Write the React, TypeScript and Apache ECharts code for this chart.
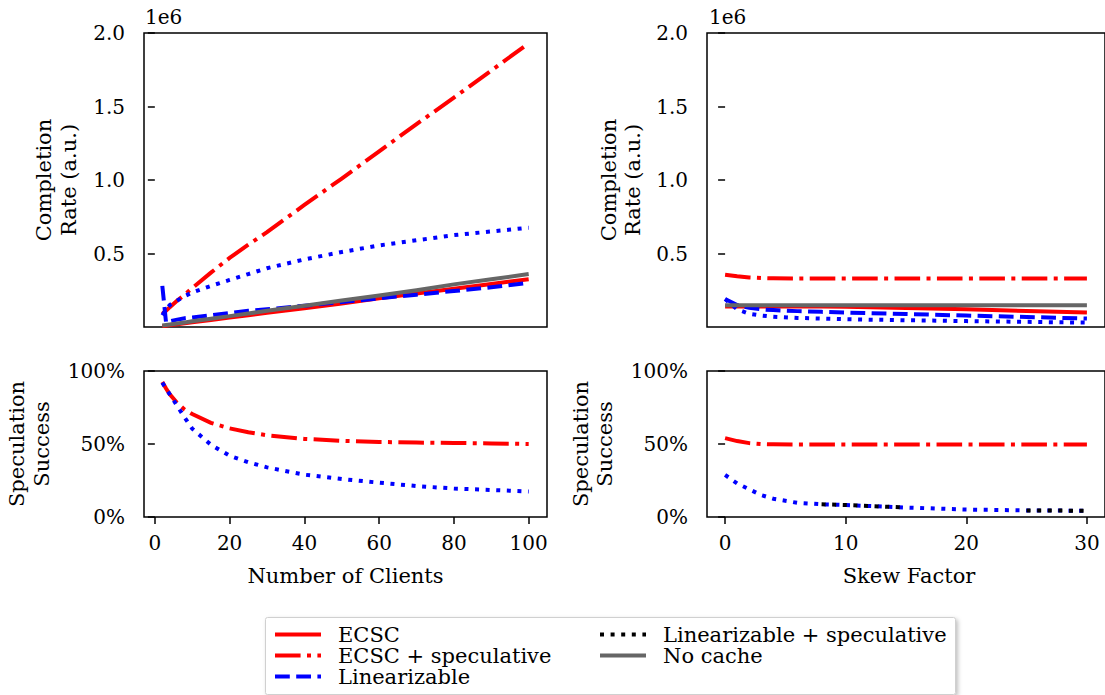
import React, { useEffect, useRef } from "react";
import * as echarts from "echarts";

const FONT = "DejaVu Serif";

// Number of clients (x for left panels)
const clients = [2, 3, 4, 6, 8, 10, 15, 20, 25, 30, 40, 50, 60, 70, 80, 90, 100];
// Completion rate (x1e6) vs clients
const rateEcscC = [0.006, 0.009, 0.013, 0.019, 0.026, 0.032, 0.048, 0.064, 0.08, 0.096, 0.128, 0.16, 0.195, 0.228, 0.26, 0.293, 0.325];
const rateEcscSpecC = [0.09, 0.11, 0.135, 0.18, 0.22, 0.265, 0.37, 0.47, 0.56, 0.645, 0.83, 1.01, 1.195, 1.38, 1.56, 1.745, 1.93];
const rateLinC = [0.28, 0.03, 0.04, 0.05, 0.06, 0.065, 0.08, 0.095, 0.11, 0.12, 0.145, 0.17, 0.195, 0.22, 0.245, 0.27, 0.3];
const rateLinSpecC = [0.08, 0.12, 0.15, 0.18, 0.21, 0.235, 0.28, 0.32, 0.36, 0.4, 0.46, 0.51, 0.555, 0.59, 0.625, 0.65, 0.675];
const rateNoCacheC = [0.01, 0.014, 0.017, 0.024, 0.031, 0.039, 0.056, 0.074, 0.092, 0.11, 0.145, 0.18, 0.215, 0.25, 0.29, 0.325, 0.36];
// Speculation success vs clients
const succEcscSpecC = [0.925, 0.88, 0.84, 0.78, 0.735, 0.705, 0.645, 0.607, 0.58, 0.56, 0.535, 0.522, 0.514, 0.51, 0.507, 0.504, 0.5];
const succLinSpecC = [0.92, 0.88, 0.84, 0.76, 0.68, 0.605, 0.495, 0.42, 0.375, 0.34, 0.29, 0.26, 0.235, 0.212, 0.195, 0.185, 0.175];

// Skew factor (x for right panels)
const skew = [0, 1, 2, 3, 4, 6, 8, 10, 12, 15, 20, 25, 30];
const rateEcscS = [0.14, 0.14, 0.14, 0.14, 0.14, 0.14, 0.14, 0.138, 0.135, 0.13, 0.12, 0.108, 0.098];
const rateEcscSpecS = [0.355, 0.345, 0.337, 0.333, 0.331, 0.33, 0.33, 0.33, 0.33, 0.33, 0.33, 0.33, 0.33];
const rateLinS = [0.19, 0.15, 0.13, 0.12, 0.115, 0.108, 0.103, 0.098, 0.094, 0.088, 0.078, 0.068, 0.058];
const rateLinSpecS = [0.19, 0.12, 0.09, 0.078, 0.07, 0.062, 0.057, 0.053, 0.05, 0.046, 0.04, 0.035, 0.03];
const rateNoCacheS = [0.148, 0.148, 0.148, 0.148, 0.148, 0.148, 0.148, 0.148, 0.148, 0.148, 0.148, 0.148, 0.148];
const succEcscSpecS = [0.54, 0.52, 0.506, 0.5, 0.498, 0.497, 0.497, 0.497, 0.497, 0.497, 0.497, 0.497, 0.497];
const succLinSpecS = [0.288, 0.23, 0.19, 0.15, 0.125, 0.097, 0.087, 0.082, 0.075, 0.065, 0.051, 0.045, 0.043];
// portions of the speculative-linearizable curve rendered black
const succLinSpecSBlack = [null, null, null, null, null, null, 0.087, 0.082, 0.075, 0.065, null, 0.045, 0.043];

const clientTicks = [0, 20, 40, 60, 80, 100];
const skewTicks = [0, 10, 20, 30];
const rateTicks = [0.5e6, 1.0e6, 1.5e6, 2.0e6];
const succTicks = [0, 0.5, 1];

const NAMES = ["ECSC", "ECSC + speculative", "Linearizable", "Linearizable + speculative", "No cache"];

const RED = "#ff0000";
const BLUE = "#0000ff";
const GRAY = "#666666";

const LW = 4;
const DASHDOT = [25.6, 6.4, 4, 6.4];
const DASHED = [14.8, 6.4];
const DOTTED = [4, 6.6];

const pts = (xs: number[], ys: (number | null)[], scale = 1) =>
  xs.map((x, i) => (ys[i] == null ? [x, "-"] : [x, (ys[i] as number) * scale]));

function line(name: string, xs: number[], ys: (number | null)[], idx: number, color: string, type: any, scale = 1, z = 2) {
  return {
    name,
    type: "line",
    xAxisIndex: idx,
    yAxisIndex: idx,
    data: pts(xs, ys, scale),
    symbol: "none",
    showSymbol: false,
    connectNulls: false,
    clip: true,
    z,
    lineStyle: { color, width: LW, type, cap: "butt", join: "miter" },
    itemStyle: { color },
    emphasis: { disabled: true },
  };
}

const tickStyle = { show: true, length: 7, inside: false, lineStyle: { color: "#000", width: 1.5 } };
const labelStyle = { fontFamily: FONT, fontSize: 20, color: "#000" };

function xAxis(grid: number, min: number, max: number, ticks: number[] | null) {
  return {
    type: "value",
    gridIndex: grid,
    min,
    max,
    axisLine: { show: false },
    splitLine: { show: false },
    axisTick: ticks ? { ...tickStyle, customValues: ticks } : { show: false },
    axisLabel: ticks ? { ...labelStyle, margin: 16, customValues: ticks } : { show: false },
  };
}

function yAxis(grid: number, min: number, max: number, ticks: number[], fmt: (v: number) => string) {
  return {
    type: "value",
    gridIndex: grid,
    min,
    max,
    axisLine: { show: false },
    splitLine: { show: false },
    axisTick: { ...tickStyle, customValues: ticks },
    axisLabel: { ...labelStyle, margin: 19, customValues: ticks, formatter: fmt },
  };
}

const gridBase = { show: true, borderColor: "#000", borderWidth: 1.5, backgroundColor: "transparent", containLabel: false };

export default function App() {
  const ref = useRef<HTMLDivElement>(null);
  useEffect(() => {
    if (!ref.current) return;
    const chart = echarts.init(ref.current, undefined, { renderer: "svg" });
    const rateFmt = (v: number) => (v / 1e6).toFixed(1);
    const succFmt = (v: number) => Math.round(v * 100) + "%";
    const series: any[] = [];
    // top-left
    series.push(line(NAMES[0], clients, rateEcscC, 0, RED, "solid", 1e6));
    series.push(line(NAMES[1], clients, rateEcscSpecC, 0, RED, DASHDOT, 1e6));
    series.push(line(NAMES[2], clients, rateLinC, 0, BLUE, DASHED, 1e6));
    series.push(line(NAMES[3], clients, rateLinSpecC, 0, BLUE, DOTTED, 1e6));
    series.push(line(NAMES[4], clients, rateNoCacheC, 0, GRAY, "solid", 1e6));
    // top-right
    series.push(line(NAMES[0], skew, rateEcscS, 1, RED, "solid", 1e6));
    series.push(line(NAMES[1], skew, rateEcscSpecS, 1, RED, DASHDOT, 1e6));
    series.push(line(NAMES[2], skew, rateLinS, 1, BLUE, DASHED, 1e6));
    series.push(line(NAMES[3], skew, rateLinSpecS, 1, BLUE, DOTTED, 1e6));
    series.push(line(NAMES[4], skew, rateNoCacheS, 1, GRAY, "solid", 1e6));
    // bottom-left
    series.push(line(NAMES[1], clients, succEcscSpecC, 2, RED, DASHDOT));
    series.push(line(NAMES[3], clients, succLinSpecC, 2, BLUE, DOTTED));
    // bottom-right
    series.push(line(NAMES[1], skew, succEcscSpecS, 3, RED, DASHDOT));
    series.push(line(NAMES[3], skew, succLinSpecS, 3, BLUE, DOTTED));
    series.push(line("overlap", skew, succLinSpecSBlack, 3, "#000", DOTTED, 1, 3));

    const legendText = { fontFamily: FONT, fontSize: 21, color: "#000", lineHeight: 21, padding: [0, 0, 0, 12] };
    const legendCommon = {
      orient: "vertical",
      itemWidth: 46,
      itemHeight: 10,
      itemGap: 0,
      padding: 0,
      selectedMode: false,
      textStyle: legendText,
      itemStyle: { opacity: 0 },
    };
    const lItem = (name: string, color: string, type: any) => ({
      name,
      lineStyle: { color, width: LW, type, cap: "butt" },
      itemStyle: { opacity: 0 },
    });

    const textEl = (x: number, y: number, text: string, rot = 0, extra: any = {}) => ({
      type: "text",
      x,
      y,
      rotation: rot,
      style: {
        text,
        fontFamily: FONT,
        fontSize: 21,
        fill: "#000",
        textAlign: "center",
        textVerticalAlign: "middle",
        lineHeight: 24.5,
        ...extra,
      },
    });

    chart.setOption({
      animation: false,
      backgroundColor: "#fff",
      grid: [
        { ...gridBase, left: 144, top: 33, width: 403, height: 294 },
        { ...gridBase, left: 707, top: 33, right: -5, height: 294 },
        { ...gridBase, left: 144, top: 371, width: 403, height: 146 },
        { ...gridBase, left: 707, top: 371, right: -5, height: 146 },
      ],
      xAxis: [
        xAxis(0, -2.9, 104.9, null),
        xAxis(1, -1.5, 31.5, null),
        xAxis(2, -2.9, 104.9, clientTicks),
        xAxis(3, -1.5, 31.5, skewTicks),
      ],
      yAxis: [
        yAxis(0, 0, 2e6, rateTicks, rateFmt),
        yAxis(1, 0, 2e6, rateTicks, rateFmt),
        yAxis(2, 0, 1, succTicks, succFmt),
        yAxis(3, 0, 1, succTicks, succFmt),
      ],
      legend: [
        {
          ...legendCommon,
          left: 273,
          top: 624,
          data: [lItem(NAMES[0], RED, "solid"), lItem(NAMES[1], RED, DASHDOT), lItem(NAMES[2], BLUE, DASHED)],
        },
        {
          ...legendCommon,
          left: 598,
          top: 624,
          data: [lItem(NAMES[3], "#000", DOTTED), lItem(NAMES[4], GRAY, "solid")],
        },
      ],
      graphic: [
        {
          type: "rect",
          z: 0,
          shape: { x: 265.5, y: 617.5, width: 690, height: 77, r: 2 },
          style: { fill: "#fff", stroke: "#d0d0d0", lineWidth: 1, shadowBlur: 4, shadowColor: "rgba(0,0,0,0.25)", shadowOffsetX: 2, shadowOffsetY: 2 },
        },
        textEl(145, 17, "1e6", 0, { textAlign: "left", fontSize: 20 }),
        textEl(709, 17, "1e6", 0, { textAlign: "left", fontSize: 20 }),
        textEl(56.5, 180, "Completion\nRate (a.u.)", Math.PI / 2),
        textEl(621, 180, "Completion\nRate (a.u.)", Math.PI / 2),
        textEl(29.5, 444, "Speculation\nSuccess", Math.PI / 2),
        textEl(593, 444, "Speculation\nSuccess", Math.PI / 2),
        textEl(345.5, 576, "Number of Clients"),
        textEl(909, 576, "Skew Factor"),
      ],
      series,
    });
    return () => chart.dispose();
  }, []);
  return <div ref={ref} style={{ position: "fixed", left: 0, top: 0, width: 1105, height: 695, background: "#fff" }} />;
}
